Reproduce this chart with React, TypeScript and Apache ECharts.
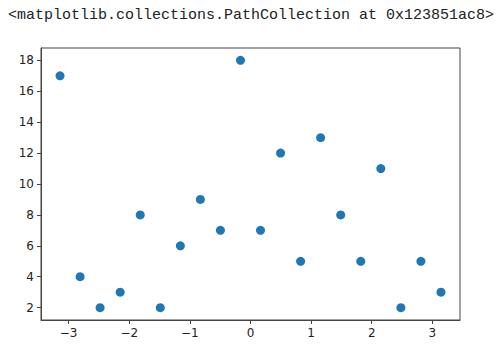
import React, { useEffect, useRef } from "react";
import * as echarts from "echarts";

const xValues = [
  -3.142, -2.811, -2.481, -2.150, -1.819, -1.488, -1.157, -0.827, -0.496, -0.165,
  0.165, 0.496, 0.827, 1.157, 1.488, 1.819, 2.150, 2.481, 2.811, 3.142,
];
const yValues = [17, 4, 2, 3, 8, 2, 6, 9, 7, 18, 7, 12, 5, 13, 8, 5, 11, 2, 5, 3];
const xTicks = [-3, -2, -1, 0, 1, 2, 3];
const yTicks = [2, 4, 6, 8, 10, 12, 14, 16, 18];
const headerText = "<matplotlib.collections.PathCollection at 0x123851ac8>";

export default function App() {
  const ref = useRef<HTMLDivElement>(null);
  useEffect(() => {
    if (!ref.current) return;
    const chart = echarts.init(ref.current, null, { renderer: "svg" });
    const fmt = (v: number) => String(v).replace("-", "\u2212");
    chart.setOption({
      animation: false,
      backgroundColor: "#ffffff",
      title: {
        text: headerText,
        left: 3,
        top: 3,
        textStyle: {
          fontFamily: "Liberation Mono",
          fontSize: 15,
          fontWeight: "normal",
          color: "#222",
        },
      },
      grid: {
        left: 41,
        top: 48,
        right: 42,
        bottom: 38,
        show: true,
        borderColor: "#444",
        borderWidth: 1,
      },
      xAxis: {
        type: "value",
        min: -3.456,
        max: 3.456,
        splitLine: { show: false },
        axisLine: { show: true, onZero: false, lineStyle: { color: "#444" } },
        axisTick: {
          show: true,
          length: 4,
          customValues: xTicks,
          lineStyle: { color: "#444" },
        },
        axisLabel: {
          customValues: xTicks,
          formatter: fmt,
          color: "#222",
          fontFamily: "DejaVu Sans",
          fontSize: 12,
          margin: 7,
        },
      },
      yAxis: {
        type: "value",
        min: 1.2,
        max: 18.8,
        splitLine: { show: false },
        axisLine: { show: true, onZero: false, lineStyle: { color: "#444" } },
        axisTick: {
          show: true,
          length: 4,
          customValues: yTicks,
          lineStyle: { color: "#444" },
        },
        axisLabel: {
          customValues: yTicks,
          formatter: fmt,
          color: "#222",
          fontFamily: "DejaVu Sans",
          fontSize: 12,
          margin: 7,
        },
      },
      series: [
        {
          type: "scatter",
          data: xValues.map((x, i) => [x, yValues[i]]),
          symbol: "circle",
          symbolSize: 9,
          itemStyle: { color: "#1f77b4", opacity: 1 },
        },
      ],
    });
    return () => chart.dispose();
  }, []);
  return <div ref={ref} style={{ width: 502, height: 358, margin: -8 }} />;
}
